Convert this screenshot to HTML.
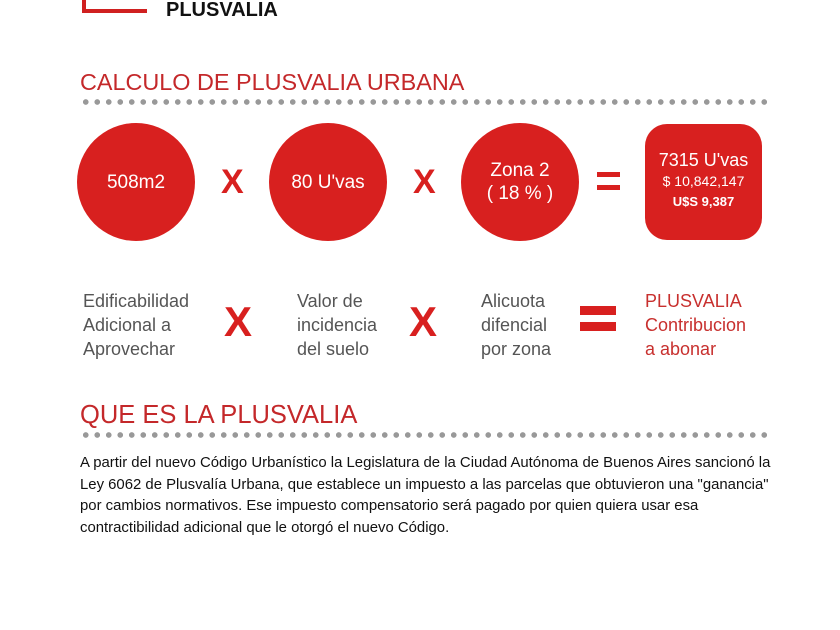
<!DOCTYPE html>
<html><head><meta charset="utf-8"><style>
body{margin:0;width:840px;height:630px;background:#fff;position:relative;overflow:hidden;font-family:"Liberation Sans",sans-serif}
.a{position:absolute}
.c{position:absolute;border-radius:50%;background:#d8201f;color:#fff;width:118px;height:118px;display:flex;align-items:center;justify-content:center;text-align:center;font-size:19px;line-height:23px}
.dots{position:absolute;left:80px;width:692px;height:6px;background:radial-gradient(circle,#999 2.6px,transparent 3px) 0 0/11.5px 6px repeat-x}
.x{position:absolute;color:#d8201f;font-weight:bold;font-size:34px}
.g{position:absolute;color:#555;font-size:18px;line-height:24px}
.r{color:#c8302e}
</style></head><body>
<div class="a" style="left:82px;top:0;width:4px;height:12px;background:#d02020"></div>
<div class="a" style="left:82px;top:9px;width:65px;height:4px;background:#d02020"></div>
<div class="a" style="left:166px;top:-1px;font-weight:bold;font-size:20px;color:#111">PLUSVALIA</div>
<div class="a r" style="left:80px;top:69px;font-size:23.4px;color:#c4282a">CALCULO DE PLUSVALIA URBANA</div>
<div class="dots" style="top:99px"></div>
<div class="c" style="left:77px;top:123px">508m2</div>
<div class="x" style="left:221px;top:163px">X</div>
<div class="c" style="left:269px;top:123px">80 U'vas</div>
<div class="x" style="left:413px;top:163px">X</div>
<div class="c" style="left:461px;top:123px">Zona 2<br>( 18 % )</div>
<div class="a" style="left:597px;top:172px;width:23px;height:5px;background:#d8201f"></div>
<div class="a" style="left:597px;top:185px;width:23px;height:5px;background:#d8201f"></div>
<div class="a" style="left:645px;top:124px;width:117px;height:116px;border-radius:22px;background:#d8201f;color:#fff;text-align:center">
<div style="margin-top:26px;font-size:18px;line-height:20px">7315 U'vas</div>
<div style="font-size:14px;line-height:22px">$ 10,842,147</div>
<div style="font-size:13px;font-weight:bold;line-height:20px">U$S 9,387</div></div>
<div class="g" style="left:83px;top:289px">Edificabilidad<br>Adicional a<br>Aprovechar</div>
<div class="x" style="left:224px;top:298px;font-size:42px">X</div>
<div class="g" style="left:297px;top:289px">Valor de<br>incidencia<br>del suelo</div>
<div class="x" style="left:409px;top:298px;font-size:42px">X</div>
<div class="g" style="left:481px;top:289px">Alicuota<br>difencial<br>por zona</div>
<div class="a" style="left:580px;top:306px;width:36px;height:9px;background:#d8201f"></div>
<div class="a" style="left:580px;top:322px;width:36px;height:9px;background:#d8201f"></div>
<div class="g r" style="left:645px;top:289px">PLUSVALIA<br>Contribucion<br>a abonar</div>
<div class="a" style="left:80px;top:401px;font-size:25.5px;color:#c4282a">QUE ES LA PLUSVALIA</div>
<div class="dots" style="top:432px"></div>
<div class="a" style="left:80px;top:453px;width:760px;font-size:14.9px;line-height:21.5px;color:#111;white-space:nowrap">A partir del nuevo Código Urbanístico la Legislatura de la Ciudad Autónoma de Buenos Aires sancionó la<br>Ley 6062 de Plusvalía Urbana, que establece un impuesto a las parcelas que obtuvieron una "ganancia"<br>por cambios normativos. Ese impuesto compensatorio será pagado por quien quiera usar esa<br>contractibilidad adicional que le otorgó el nuevo Código.</div>
</body></html>
